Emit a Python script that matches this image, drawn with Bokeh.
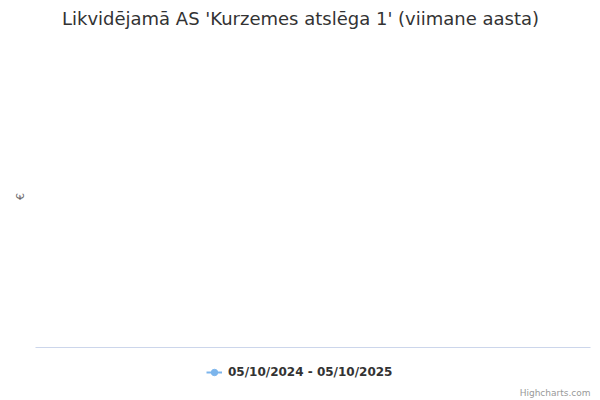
import math
from bokeh.plotting import figure
from bokeh.models import Legend, LegendItem, Label, BoxAnnotation, ColumnDataSource, Range1d
from bokeh.embed import file_html
from bokeh.resources import INLINE

# Data (the reference chart shows an empty series)
dates = []
values = []
series_name = "05/10/2024 - 05/10/2025"
title_text = "Likvidējamā AS 'Kurzemes atslēga 1' (viimane aasta)"
y_label = "€"
credits = "Highcharts.com"

FONT = "DejaVu Sans"
W, H = 600, 400

src = ColumnDataSource(data=dict(x=dates, y=values))

p = figure(width=W, height=H, output_backend="svg", toolbar_location=None,
           x_range=Range1d(0, 1), y_range=Range1d(0, 1),
           x_axis_location=None, y_axis_location=None,
           min_border=0)
p.outline_line_color = None
p.xgrid.visible = False
p.ygrid.visible = False

# the (empty) series
r_line = p.line("x", "y", source=src, line_color="#7cb5ec", line_width=2)
r_pt = p.scatter("x", "y", source=src, size=8, fill_color="#7cb5ec", line_color="#7cb5ec")

# legend symbol proxy (not a data mark): a single non-plotted NaN point so the
# legend can draw its line+marker icon even though the series is empty
proxy = ColumnDataSource(data=dict(x=[math.nan], y=[math.nan]))
l_line = p.line("x", "y", source=proxy, line_color="#7cb5ec", line_width=2)
l_pt = p.scatter("x", "y", source=proxy, size=8, fill_color="#7cb5ec", line_color="#7cb5ec")

legend = Legend(items=[LegendItem(label=series_name, renderers=[l_line, l_pt])],
                orientation="horizontal", location=(206, 20),
                border_line_color=None, background_fill_alpha=0,
                label_text_font=FONT, label_text_font_size="12px",
                label_text_font_style="bold", label_text_color="#333333",
                glyph_width=16, glyph_height=16, label_standoff=6,
                label_height=16, padding=0, margin=0, spacing=0)
p.add_layout(legend, "center")

# x axis line (bottom of the plot area)
p.add_layout(BoxAnnotation(left=35, right=590, bottom=52.5, top=53.5,
                           left_units="screen", right_units="screen",
                           bottom_units="screen", top_units="screen",
                           fill_color="#ccd6eb", fill_alpha=1, line_color=None))

p.add_layout(Label(x=300, y=H - 18, x_units="screen", y_units="screen", text=title_text,
                   text_font=FONT, text_font_size="18px", text_color="#333333",
                   text_align="center", text_baseline="middle"))
p.add_layout(Label(x=20, y=H - 196, x_units="screen", y_units="screen", text=y_label,
                   angle=math.pi / 2, text_font=FONT, text_font_size="11px",
                   text_color="#666666", text_align="center", text_baseline="middle"))
p.add_layout(Label(x=590, y=H - 392, x_units="screen", y_units="screen", text=credits,
                   text_font=FONT, text_font_size="9px", text_color="#999999",
                   text_align="right", text_baseline="middle"))

open("out.html", "w").write(file_html(p, INLINE))
